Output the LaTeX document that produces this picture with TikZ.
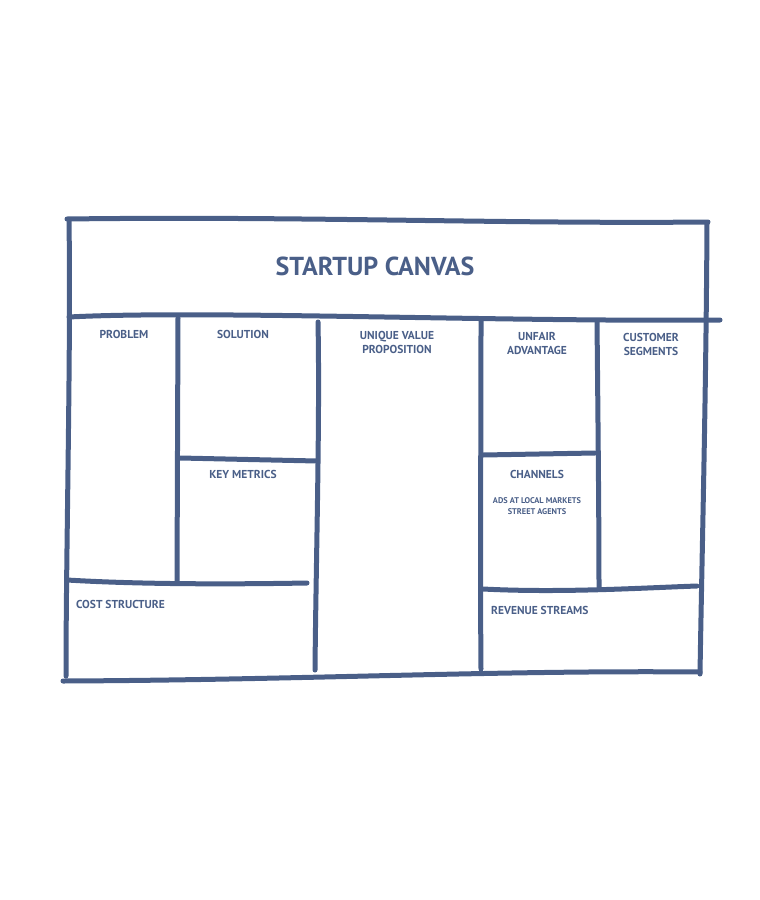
\documentclass[tikz,border=0pt]{standalone}
\usepackage{fontspec}
\setmainfont{PT Sans}
\definecolor{ink}{HTML}{4A5F88}
\begin{document}
\begin{tikzpicture}[x=1pt,y=-1pt,
  stroke/.style={draw=ink,line width=5pt,line cap=round,line join=round},
  lbl/.style={text=ink,font=\bfseries\fontsize{11.5}{14}\selectfont,align=center,inner sep=0pt},
  sublbl/.style={text=ink,font=\bfseries\fontsize{8.3}{11}\selectfont,align=center,inner sep=0pt},
  ttl/.style={text=ink,font=\bfseries\fontsize{26}{30}\selectfont,inner sep=0pt}]
\useasboundingbox (0,0) rectangle (760,900);
% outer frame
\draw[stroke] (67,219) .. controls (300,216) and (500,224) .. (708,222);
\draw[stroke] (69,221) .. controls (71,350) and (66,550) .. (66,676);
\draw[stroke] (707,223) .. controls (706,400) and (702,550) .. (700,674);
\draw[stroke] (63,681) .. controls (300,680) and (500,670) .. (700,672);
% header divider
\draw[stroke] (69,317) .. controls (200,310) and (500,322) .. (720,320);
% verticals
\draw[stroke] (178,318) -- (177,583);
\draw[stroke] (318,322) .. controls (320,420) and (316,560) .. (315,670);
\draw[stroke] (481,320) .. controls (481,450) and (480,560) .. (481,669);
\draw[stroke] (597,321) .. controls (598,420) and (599,520) .. (599,589);
% horizontals
\draw[stroke] (180,458) -- (317,461);
\draw[stroke] (483,455) -- (595,453);
\draw[stroke] (67,580) .. controls (150,585) and (250,584) .. (307,583);
\draw[stroke] (483,589) .. controls (560,593) and (640,588) .. (697,586);
% labels
\node[ttl] (title) at (375,266) {STARTUP CANVAS};
\node[lbl] (problem) at (124,334) {PROBLEM};
\node[lbl] (solution) at (243,334) {SOLUTION};
\node[lbl] (uvp) at (397,342) {UNIQUE VALUE\\PROPOSITION};
\node[lbl] (unfair) at (537,343) {UNFAIR\\ADVANTAGE};
\node[lbl] (cust) at (651,344) {CUSTOMER\\SEGMENTS};
\node[lbl] (metrics) at (243,474) {KEY METRICS};
\node[lbl] (channels) at (537,474) {CHANNELS};
\node[sublbl] (ads) at (537,506) {ADS AT LOCAL MARKETS\\STREET AGENTS};
\node[lbl,anchor=west] (cost) at (76,604) {COST STRUCTURE};
\node[lbl,anchor=west] (rev) at (491,610) {REVENUE STREAMS};
\end{tikzpicture}
\end{document}
